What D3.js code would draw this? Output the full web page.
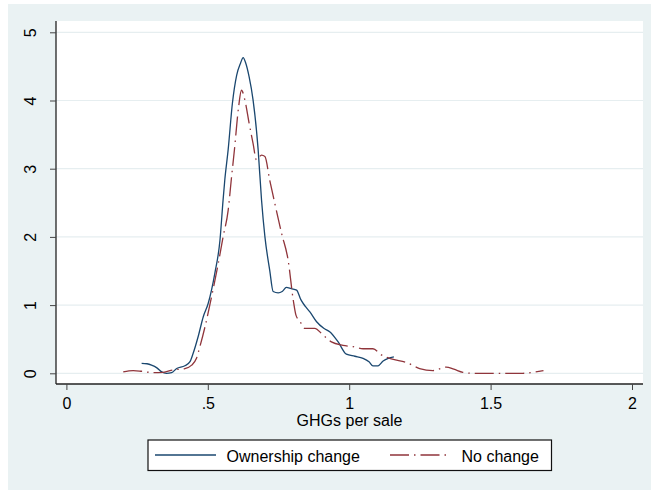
<!DOCTYPE html>
<html>
<head>
<meta charset="utf-8">
<script src="https://cdn.jsdelivr.net/npm/d3@7"></script>
<style>
  body { margin: 0; background: #fff; }
  svg { display: block; font-family: "Liberation Sans", Arial, sans-serif; }
  .tick-label { font-size: 16px; fill: #000; }
</style>
</head>
<body>
<svg id="chart"></svg>
<script>
// kernel density estimates
const ownershipX = [0.266, 0.285, 0.301, 0.320, 0.337, 0.354, 0.372, 0.390, 0.419, 0.437, 0.448, 0.466, 0.484, 0.501, 0.525, 0.543, 0.554, 0.560, 0.572, 0.587, 0.602, 0.616, 0.625, 0.634, 0.646, 0.660, 0.678, 0.690, 0.702, 0.719, 0.731, 0.749, 0.763, 0.778, 0.795, 0.814, 0.829, 0.845, 0.861, 0.884, 0.910, 0.931, 0.961, 0.990, 1.020, 1.049, 1.070, 1.084, 1.102, 1.120, 1.138, 1.158];
const ownershipY = [0.147, 0.14, 0.12, 0.08, 0.02, 0, 0.01, 0.07, 0.11, 0.17, 0.29, 0.54, 0.83, 1.02, 1.47, 1.95, 2.54, 2.83, 3.28, 3.96, 4.37, 4.55, 4.63, 4.55, 4.35, 4.01, 3.28, 2.54, 2.00, 1.51, 1.20, 1.18, 1.20, 1.26, 1.24, 1.22, 1.08, 0.98, 0.90, 0.76, 0.66, 0.61, 0.46, 0.28, 0.25, 0.22, 0.17, 0.11, 0.11, 0.18, 0.22, 0.24];

const noChangeX = [0.201, 0.236, 0.266, 0.307, 0.342, 0.378, 0.419, 0.443, 0.460, 0.472, 0.490, 0.507, 0.537, 0.554, 0.572, 0.584, 0.594, 0.609, 0.619, 0.631, 0.646, 0.660, 0.672, 0.690, 0.702, 0.719, 0.737, 0.761, 0.784, 0.802, 0.812, 0.826, 0.843, 0.878, 0.908, 0.937, 0.978, 1.014, 1.049, 1.084, 1.114, 1.149, 1.202, 1.249, 1.296, 1.343, 1.370, 1.402, 1.438, 1.526, 1.614, 1.658, 1.687];
const noChangeY = [0.02, 0.04, 0.03, 0.01, 0.015, 0.05, 0.07, 0.12, 0.22, 0.39, 0.68, 1.0, 1.61, 2.00, 2.39, 2.88, 3.27, 3.91, 4.15, 4.01, 3.67, 3.37, 3.13, 3.20, 3.18, 2.83, 2.49, 2.05, 1.66, 1.08, 0.85, 0.76, 0.66, 0.66, 0.56, 0.46, 0.41, 0.39, 0.36, 0.36, 0.27, 0.21, 0.16, 0.07, 0.04, 0.09, 0.06, 0.015, 0, 0, 0, 0.02, 0.04];

const xTicks = [0, 0.5, 1, 1.5, 2];
const xTickLabels = ["0", ".5", "1", "1.5", "2"];
const yTicks = [0, 1, 2, 3, 4, 5];
const seriesNames = ["Ownership change", "No change"];
const xTitle = "GHGs per sale";

const width = 651;
const height = 490;

const colors = new Map();
colors.set("Ownership change", "#1a476f");
colors.set("No change", "#90353b");
const dashes = new Map();
dashes.set("Ownership change", null);
dashes.set("No change", "19,5,1.5,5");

const plotLeft = 56, plotRight = 643, plotTop = 21, plotBottom = 384;

const x = d3.scaleLinear().domain([0, 2]).range([66.4, 632]);
const y = d3.scaleLinear().domain([0, 5]).range([373.3, 32.3]);

const svg = d3.select("#chart").attr("width", width).attr("height", height);

// outer (graph region) and inner (plot region)
svg.append("rect").attr("x", 8).attr("y", 4).attr("width", width - 8).attr("height", height - 4).attr("fill", "#eaf2f3");
svg.append("rect")
  .attr("x", plotLeft).attr("y", plotTop)
  .attr("width", plotRight - plotLeft).attr("height", plotBottom - plotTop)
  .attr("fill", "#fff");

// gridlines
svg.append("g")
  .selectAll("line")
  .data(yTicks)
  .join("line")
  .attr("x1", plotLeft).attr("x2", plotRight)
  .attr("y1", (d) => y(d)).attr("y2", (d) => y(d))
  .attr("stroke", "#e6eef0")
  .attr("stroke-width", 1.2);

// axes
const yAxis = svg.append("g")
  .attr("transform", `translate(${plotLeft},0)`)
  .call(d3.axisLeft(y).tickValues(yTicks).tickSize(6).tickFormat(""));
yAxis.select(".domain").attr("d", `M0,${plotTop}V${plotBottom}`).attr("stroke", "#222").attr("stroke-width", 1.3);
yAxis.selectAll(".tick line").attr("stroke", "#444");

yAxis.selectAll(".tick")
  .append("text")
  .attr("transform", "translate(-20,0) rotate(-90)")
  .attr("text-anchor", "middle")
  .attr("y", 0)
  .attr("fill", "#000")
  .attr("class", "tick-label")
  .text((d) => d);

const xAxis = svg.append("g")
  .attr("transform", `translate(0,${plotBottom})`)
  .call(d3.axisBottom(x).tickValues(xTicks).tickSize(6).tickFormat((d, i) => xTickLabels[i]));
xAxis.select(".domain").attr("d", `M${plotLeft},0H${plotRight}`).attr("stroke", "#222").attr("stroke-width", 1.3);
xAxis.selectAll(".tick line").attr("stroke", "#444");
xAxis.selectAll(".tick text")
  .attr("y", 0).attr("dy", null)
  .attr("transform", "translate(0,25.3)")
  .attr("class", "tick-label")
  .attr("font-size", null).attr("font-family", null)
  .attr("fill", "#000");
xAxis.attr("font-size", null).attr("font-family", null);
yAxis.attr("font-size", null).attr("font-family", null);

svg.append("text")
  .attr("x", (plotLeft + plotRight) / 2)
  .attr("y", 426)
  .attr("text-anchor", "middle")
  .attr("font-size", 16)
  .attr("fill", "#000")
  .text(xTitle);

// density lines
const line = d3.line()
  .x((d) => x(d[0]))
  .y((d) => y(d[1]))
  .curve(d3.curveMonotoneX);

const series = [
  { name: seriesNames[0], values: d3.zip(ownershipX, ownershipY) },
  { name: seriesNames[1], values: d3.zip(noChangeX, noChangeY) },
];

svg.append("g")
  .selectAll("path")
  .data(series)
  .join("path")
  .attr("d", (d) => line(d.values))
  .attr("fill", "none")
  .attr("stroke", (d) => colors.get(d.name))
  .attr("stroke-width", 1.3)
  .attr("stroke-dasharray", (d) => dashes.get(d.name));

// legend
const legend = svg.append("g").attr("transform", "translate(148,440)");
legend.append("rect")
  .attr("width", 403.5).attr("height", 30.5)
  .attr("fill", "#fff").attr("stroke", "#111").attr("stroke-width", 1.2);

const legendX = [7, 242];
const items = legend.selectAll("g.item")
  .data(series)
  .join("g")
  .attr("class", "item")
  .attr("transform", (d, i) => `translate(${legendX[i]},0)`);
items.append("line")
  .attr("x1", 0).attr("x2", 61)
  .attr("y1", 15).attr("y2", 15)
  .attr("stroke", (d) => colors.get(d.name))
  .attr("stroke-width", 1.3)
  .attr("stroke-dasharray", (d) => dashes.get(d.name));
items.append("text")
  .attr("x", 71.5)
  .attr("y", 22)
  .attr("font-size", 16)
  .attr("fill", "#000")
  .text((d) => d.name);
</script>
</body>
</html>
